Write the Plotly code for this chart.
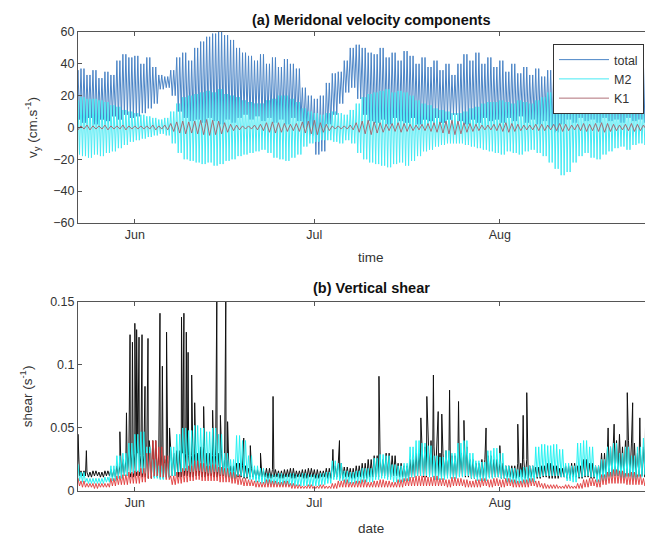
import pandas as pd
import plotly.graph_objects as go

# ---------------- data ----------------
day_start = "2014-05-22"          # one value per day, 22 May .. 27 Aug
n_days = 98
ref_day = "2014-06-01"            # origin for spike offsets (days)

# (a) meridional velocity, daily upper / lower envelopes (cm/s)
total_hi = [36, 37, 33, 36, 31, 35, 33, 42, 46, 44,
            45, 40, 44, 38, 33, 32, 36, 44, 47, 42,
            50, 54, 57, 59, 60, 58, 55, 50, 47, 45,
            42, 46, 40, 44, 38, 43, 40, 37, 25, 20,
            18, 20, 28, 34, 35, 42, 50, 52, 50, 47,
            46, 50, 44, 47, 42, 48, 45, 40, 44, 38,
            42, 36, 40, 33, 40, 46, 42, 47, 40, 44,
            38, 42, 35, 40, 34, 38, 33, 37, 32, 36,
            34, 38, 35, 36, 33, 37, 34, 38, 35, 36,
            33, 37, 35, 38, 36, 40, 42, 40]
total_lo = [5, 3, 6, 2, 5, 4, 7, 5, 8, 6,
            7, 9, 12, 15, 24, 25, 20, 10, 6, 4,
            5, 3, 6, 4, 2, 5, 3, 6, 8, 5,
            7, 4, 6, 3, 5, 2, 6, 4, 0, -5,
            -17, -15, 2, 8, 15, 22, 25, 18, 8, 4,
            3, 5, 2, 6, 4, 3, 6, 2, 5, 4,
            6, 3, 5, 8, 4, 2, 5, 3, 6, 4,
            5, 3, 6, 4, 7, 3, 5, 2, 4, 0,
            -3, 2, 5, 3, 6, 4, 5, 3, 6, 4,
            5, 3, 6, 4, 5, 3, 6, 4]
m2_hi = [17, 19, 18, 18, 17, 16, 14, 13, 11, 10,
         9, 8, 7, 6, 5, 6, 10, 15, 19, 20,
         21, 22, 23, 22, 24, 21, 20, 19, 17, 16,
         15, 15, 17, 18, 20, 20, 18, 16, 12, 10,
         9, 8, 9, 10, 9, 8, 11, 15, 19, 21,
         22, 23, 24, 22, 23, 22, 20, 17, 15, 14,
         12, 11, 10, 9, 9, 10, 12, 13, 15, 16,
         16, 17, 16, 15, 17, 16, 15, 17, 19, 22,
         25, 28, 27, 22, 19, 17, 18, 19, 17, 15,
         14, 13, 14, 12, 11, 12, 10, 9]
m2_lo = [-17, -18, -19, -17, -18, -16, -15, -13, -11, -9,
         -8, -7, -6, -5, -4, -5, -10, -16, -20, -21,
         -22, -23, -22, -24, -23, -21, -20, -18, -17, -16,
         -15, -14, -16, -19, -20, -21, -19, -17, -12, -10,
         -9, -8, -8, -9, -10, -8, -10, -16, -20, -22,
         -23, -24, -25, -23, -22, -24, -21, -18, -15, -14,
         -12, -11, -10, -10, -10, -11, -12, -13, -14, -15,
         -16, -17, -15, -16, -17, -15, -14, -16, -18, -22,
         -26, -30, -28, -22, -18, -16, -19, -20, -17, -15,
         -13, -12, -14, -11, -10, -11, -9, -8]
k1_hi = [1.5, 1, 1.5, 1, 1, 1.5, 1, 1, 1.5, 1,
         1, 1, 1, 1.5, 1, 1.5, 2.5, 3.5, 4, 3.5,
         4, 4.5, 5, 4.5, 4, 3, 2, 1.5, 1, 1,
         1.5, 2, 3, 3.5, 3, 2.5, 2, 2.5, 3.5, 4,
         4.5, 3, 2, 1, 1, 1, 1.5, 3, 4, 4.5,
         3.5, 3, 2, 2.5, 3, 2.5, 2, 1.5, 2, 2.5,
         3, 3.5, 4, 4.5, 4, 3, 2.5, 2, 1.5, 1.5,
         2, 2.5, 3, 2.5, 2, 1.5, 1.5, 2, 2, 1.5,
         2, 2.5, 2, 1.5, 2, 2.5, 2, 2.5, 3, 2.5,
         2, 1.5, 2, 2.5, 2, 1.5, 2, 2]
k1_lo = [-1.5, -1, -1.5, -1, -1, -1.5, -1, -1, -1.5, -1,
         -1, -1, -1, -1.5, -1, -1.5, -2.5, -3.5, -4, -3.5,
         -4, -4.5, -5, -4.5, -4, -3, -2, -1.5, -1, -1,
         -1.5, -2, -3, -3.5, -3, -2.5, -2, -2.5, -3.5, -4,
         -4.5, -3, -2, -1, -1, -1, -1.5, -3, -4, -4.5,
         -3.5, -3, -2, -2.5, -3, -2.5, -2, -1.5, -2, -2.5,
         -3, -3.5, -4, -4.5, -4, -3, -2.5, -2, -1.5, -1.5,
         -2, -2.5, -3, -2.5, -2, -1.5, -1.5, -2, -2, -1.5,
         -2, -2.5, -2, -1.5, -2, -2.5, -2, -2.5, -3, -2.5,
         -2, -1.5, -2, -2.5, -2, -1.5, -2, -2]

# (b) vertical shear, daily upper / lower envelopes (1/s)
shear_hi = [0.025, 0.016, 0.015, 0.016, 0.015, 0.016, 0.017, 0.020, 0.025, 0.030,
            0.030, 0.028, 0.035, 0.040, 0.030, 0.025, 0.030, 0.032, 0.030, 0.028,
            0.030, 0.035, 0.030, 0.028, 0.030, 0.025, 0.020, 0.022, 0.020, 0.018,
            0.017, 0.016, 0.018, 0.017, 0.016, 0.017, 0.018, 0.016, 0.017, 0.018,
            0.017, 0.016, 0.018, 0.020, 0.022, 0.019, 0.018, 0.020, 0.022, 0.025,
            0.028, 0.025, 0.030, 0.028, 0.022, 0.020, 0.025, 0.030, 0.035, 0.040,
            0.035, 0.030, 0.032, 0.028, 0.030, 0.035, 0.025, 0.022, 0.025, 0.028,
            0.025, 0.022, 0.020, 0.020, 0.022, 0.025, 0.020, 0.019, 0.020, 0.022,
            0.020, 0.018, 0.020, 0.022, 0.020, 0.025, 0.022, 0.020, 0.030, 0.035,
            0.040, 0.035, 0.040, 0.038, 0.030, 0.035, 0.030, 0.028]
shear_lo = [0.012, 0.012, 0.011, 0.012, 0.011, 0.012, 0.011, 0.012, 0.012, 0.011,
            0.012, 0.011, 0.010, 0.011, 0.010, 0.011, 0.012, 0.011, 0.012, 0.011,
            0.012, 0.011, 0.012, 0.011, 0.012, 0.011, 0.010, 0.011, 0.010, 0.011,
            0.010, 0.011, 0.010, 0.011, 0.010, 0.011, 0.010, 0.011, 0.010, 0.011,
            0.010, 0.011, 0.010, 0.011, 0.010, 0.011, 0.010, 0.011, 0.010, 0.011,
            0.011, 0.012, 0.011, 0.012, 0.011, 0.010, 0.011, 0.012, 0.011, 0.012,
            0.012, 0.011, 0.012, 0.011, 0.012, 0.011, 0.010, 0.011, 0.010, 0.011,
            0.011, 0.010, 0.011, 0.010, 0.011, 0.010, 0.011, 0.010, 0.011, 0.010,
            0.010, 0.011, 0.010, 0.011, 0.010, 0.011, 0.010, 0.011, 0.011, 0.012,
            0.012, 0.011, 0.012, 0.011, 0.012, 0.011, 0.012, 0.011]
spike_days = [-9.5, -8.1, -2.5, -1.4, -0.8, -0.4, 0.0, 0.3, 0.7, 1.2, 1.7, 2.2, 2.4,
              4.2, 4.6, 5.3, 5.8, 7.8, 8.2, 8.6, 8.9, 9.5, 10.0, 11.5, 13.0, 13.7,
              14.3, 15.2, 15.5, 18.2, 19.3, 21.0, 23.1, 33.1, 34.2, 40.8, 47.8, 48.8,
              49.9, 50.7, 51.3, 52.6, 54.1, 55.0, 58.7, 61.0, 64.0, 64.9, 65.5, 79.1,
              80.1, 81.0, 82.3, 83.2, 84.4, 85.4, 86.5]
spike_vals = [0.045, 0.032, 0.047, 0.062, 0.124, 0.118, 0.133, 0.128, 0.122, 0.124, 0.083,
              0.121, 0.040, 0.141, 0.099, 0.126, 0.050, 0.138, 0.141, 0.126, 0.110, 0.092,
              0.070, 0.067, 0.064, 0.155, 0.060, 0.155, 0.055, 0.042, 0.036, 0.030, 0.075,
              0.033, 0.040, 0.091, 0.058, 0.075, 0.092, 0.063, 0.061, 0.080, 0.071, 0.056,
              0.050, 0.036, 0.053, 0.060, 0.078, 0.050, 0.053, 0.045, 0.078, 0.070, 0.058,
              0.072, 0.092]
m2s_hi = [0.021, 0.015, 0.010, 0.010, 0.010, 0.011, 0.020, 0.028, 0.030, 0.038,
          0.045, 0.047, 0.035, 0.025, 0.020, 0.022, 0.035, 0.045, 0.050, 0.048,
          0.052, 0.050, 0.047, 0.050, 0.045, 0.030, 0.025, 0.044, 0.040, 0.028,
          0.020, 0.018, 0.014, 0.013, 0.014, 0.013, 0.014, 0.013, 0.014, 0.013,
          0.013, 0.014, 0.015, 0.024, 0.022, 0.016, 0.015, 0.016, 0.018, 0.018,
          0.026, 0.029, 0.028, 0.021, 0.020, 0.022, 0.035, 0.040, 0.038, 0.036,
          0.028, 0.027, 0.032, 0.030, 0.038, 0.040, 0.030, 0.024, 0.023, 0.032,
          0.034, 0.030, 0.020, 0.018, 0.017, 0.019, 0.020, 0.035, 0.037, 0.036,
          0.037, 0.033, 0.022, 0.020, 0.038, 0.040, 0.035, 0.020, 0.025, 0.035,
          0.038, 0.030, 0.035, 0.028, 0.035, 0.042, 0.045, 0.040]
m2s_lo = [0.008, 0.007, 0.006, 0.006, 0.006, 0.007, 0.008, 0.010, 0.012, 0.014,
          0.015, 0.014, 0.012, 0.010, 0.009, 0.010, 0.012, 0.015, 0.016, 0.015,
          0.016, 0.015, 0.014, 0.015, 0.013, 0.011, 0.010, 0.012, 0.011, 0.009,
          0.007, 0.006, 0.005, 0.005, 0.004, 0.004, 0.004, 0.004, 0.004, 0.004,
          0.004, 0.005, 0.006, 0.009, 0.008, 0.006, 0.006, 0.006, 0.007, 0.007,
          0.009, 0.010, 0.009, 0.007, 0.007, 0.008, 0.011, 0.012, 0.012, 0.011,
          0.009, 0.009, 0.010, 0.010, 0.011, 0.012, 0.010, 0.008, 0.008, 0.010,
          0.011, 0.010, 0.007, 0.006, 0.006, 0.006, 0.007, 0.011, 0.012, 0.012,
          0.012, 0.011, 0.008, 0.007, 0.011, 0.012, 0.011, 0.007, 0.008, 0.011,
          0.012, 0.010, 0.011, 0.009, 0.011, 0.013, 0.014, 0.013]
k1s_hi = [0.010, 0.008, 0.006, 0.006, 0.006, 0.006, 0.010, 0.012, 0.013, 0.015,
          0.016, 0.018, 0.030, 0.040, 0.035, 0.028, 0.012, 0.015, 0.018, 0.020,
          0.024, 0.022, 0.020, 0.021, 0.019, 0.018, 0.015, 0.013, 0.010, 0.009,
          0.008, 0.007, 0.009, 0.008, 0.007, 0.008, 0.006, 0.005, 0.004, 0.005,
          0.004, 0.005, 0.004, 0.006, 0.008, 0.009, 0.007, 0.008, 0.009, 0.007,
          0.008, 0.009, 0.008, 0.007, 0.009, 0.010, 0.011, 0.012, 0.012, 0.011,
          0.012, 0.010, 0.009, 0.011, 0.010, 0.009, 0.008, 0.009, 0.010, 0.009,
          0.010, 0.009, 0.010, 0.009, 0.008, 0.009, 0.010, 0.008, 0.006, 0.005,
          0.005, 0.004, 0.005, 0.004, 0.006, 0.009, 0.010, 0.009, 0.013, 0.015,
          0.017, 0.016, 0.014, 0.015, 0.013, 0.010, 0.011, 0.010]
k1s_lo = [0.004, 0.003, 0.003, 0.002, 0.003, 0.003, 0.004, 0.005, 0.005, 0.006,
          0.006, 0.007, 0.010, 0.012, 0.011, 0.009, 0.005, 0.006, 0.007, 0.008,
          0.009, 0.008, 0.008, 0.008, 0.007, 0.007, 0.006, 0.005, 0.004, 0.004,
          0.003, 0.003, 0.003, 0.003, 0.003, 0.003, 0.002, 0.002, 0.002, 0.002,
          0.002, 0.002, 0.002, 0.002, 0.003, 0.003, 0.003, 0.003, 0.003, 0.003,
          0.003, 0.003, 0.003, 0.003, 0.003, 0.004, 0.004, 0.004, 0.004, 0.004,
          0.004, 0.004, 0.003, 0.004, 0.004, 0.003, 0.003, 0.003, 0.004, 0.003,
          0.004, 0.003, 0.004, 0.003, 0.003, 0.003, 0.004, 0.003, 0.002, 0.002,
          0.002, 0.002, 0.002, 0.002, 0.002, 0.003, 0.004, 0.003, 0.005, 0.006,
          0.006, 0.006, 0.005, 0.005, 0.005, 0.004, 0.004, 0.004]

month_ticks = ["2014-06-01", "2014-07-01", "2014-08-01"]
month_labels = ["Jun", "Jul", "Aug"]
vel_ticks = [-60, -40, -20, 0, 20, 40, 60]
shear_ticks = [0, 0.05, 0.1, 0.15]
shear_labels = ["0", "0.05", "0.1", "0.15"]
series_names = ["total", "M2", "K1"]

# ---------------- build traces ----------------
days = pd.date_range(day_start, periods=n_days, freq="D")


def zigzag(hi, lo, cycles):
    """Oscillate between each day's upper and lower envelope, `cycles` times a day."""
    step = pd.Timedelta(hours=12 / cycles)
    xs, ys = [], []
    for t, h, l in zip(days, hi, lo):
        for k in range(cycles):
            xs += [t + step * (2 * k), t + step * (2 * k + 1)]
            ys += [h, l]
    return xs, ys


def with_spikes(hi, lo, cycles):
    xs, ys = zigzag(hi, lo, cycles)
    origin = pd.Timestamp(ref_day)
    pts = list(zip(xs, ys))
    for d, v in zip(spike_days, spike_vals):
        pts.append((origin + pd.Timedelta(days=d), v))
    pts.sort(key=lambda p: p[0])
    return [p[0] for p in pts], [p[1] for p in pts]


c_total = "#4a84c6"
c_m2 = "#45eaf4"
c_k1 = "#a8606a"

fig = go.Figure()
x, y = zigzag(total_hi, total_lo, 2)
fig.add_trace(go.Scatter(x=x, y=y, mode="lines", name=series_names[0],
                         line=dict(color=c_total, width=1), xaxis="x", yaxis="y"))
x, y = zigzag(m2_hi, m2_lo, 2)
fig.add_trace(go.Scatter(x=x, y=y, mode="lines", name=series_names[1],
                         line=dict(color=c_m2, width=1), xaxis="x", yaxis="y"))
x, y = zigzag(k1_hi, k1_lo, 1)
fig.add_trace(go.Scatter(x=x, y=y, mode="lines", name=series_names[2],
                         line=dict(color=c_k1, width=0.9), xaxis="x", yaxis="y"))

x, y = with_spikes(shear_hi, shear_lo, 2)
fig.add_trace(go.Scatter(x=x, y=y, mode="lines", showlegend=False,
                         line=dict(color="#111111", width=1), xaxis="x2", yaxis="y2"))
x, y = zigzag(m2s_hi, m2s_lo, 2)
fig.add_trace(go.Scatter(x=x, y=y, mode="lines", showlegend=False,
                         line=dict(color="#22f2f2", width=1), xaxis="x2", yaxis="y2"))
x, y = zigzag(k1s_hi, k1s_lo, 2)
fig.add_trace(go.Scatter(x=x, y=y, mode="lines", showlegend=False,
                         line=dict(color="#e03a3a", width=0.9), xaxis="x2", yaxis="y2"))

# ---------------- layout ----------------
# the page adds an 8 px body margin, so the figure is 8 px smaller each way
font_main = "Liberation Sans, Arial, sans-serif"
xrange = ["2014-05-22 12:00", "2014-08-26 14:24"]
axis_common = dict(showline=True, linecolor="#555555", linewidth=1, ticks="inside",
                   ticklen=4, tickcolor="#555555", showgrid=False, zeroline=False,
                   tickfont=dict(size=12.5, color="#333333"))

W, H, L, T, B = 645, 529, 70, 24, 46
pw, ph = W - L, H - T - B


def px(xi, yi):
    # reference-image pixel -> paper coordinates
    return (xi - 8 - L) / pw, (H - B - (yi - 8)) / ph


fig.update_layout(
    width=W, height=H,
    margin=dict(l=L, r=0, t=T, b=B),
    paper_bgcolor="white", plot_bgcolor="white",
    font=dict(family=font_main, color="#333333"),
    xaxis=dict(domain=[0, 1], range=xrange, anchor="y", mirror="ticks",
               tickvals=month_ticks, ticktext=month_labels, **axis_common),
    yaxis=dict(domain=[0.584, 1], range=[-60, 60], anchor="x", tickvals=vel_ticks,
               title=dict(text="v<sub>y</sub> (cm.s<sup>-1</sup>)", font=dict(size=13.5),
                          standoff=12),
               **axis_common),
    xaxis2=dict(domain=[0, 1], range=xrange, anchor="y2", mirror="ticks",
                tickvals=month_ticks, ticktext=month_labels, **axis_common),
    yaxis2=dict(domain=[0, 0.412], range=[0, 0.15], anchor="x2", tickvals=shear_ticks,
                ticktext=shear_labels,
                title=dict(text="shear (s<sup>-1</sup>)", font=dict(size=13.5), standoff=14),
                **axis_common),
    legend=dict(x=px(553, 0)[0], y=px(0, 44)[1], xanchor="left", yanchor="top",
                bgcolor="white", bordercolor="#333333", borderwidth=1, itemwidth=50,
                font=dict(size=12.5, color="#333333"), tracegroupgap=0),
)

ann_specs = [("<b>(a) Meridonal velocity components</b>", 371, 20, 14.5, "#111111"),
             ("<b>(b) Vertical shear</b>", 371, 288, 14.5, "#111111"),
             ("time", 371, 257, 13.5, "#333333"),
             ("date", 371, 528, 13.5, "#333333")]
anns = []
for text, xi, yi, size, col in ann_specs:
    ax, ay = px(xi, yi)
    anns.append(dict(text=text, x=ax, y=ay, xref="paper", yref="paper", showarrow=False,
                     xanchor="center", yanchor="middle", font=dict(size=size, color=col)))
fig.update_layout(annotations=anns)

fig.write_html("out.html")
